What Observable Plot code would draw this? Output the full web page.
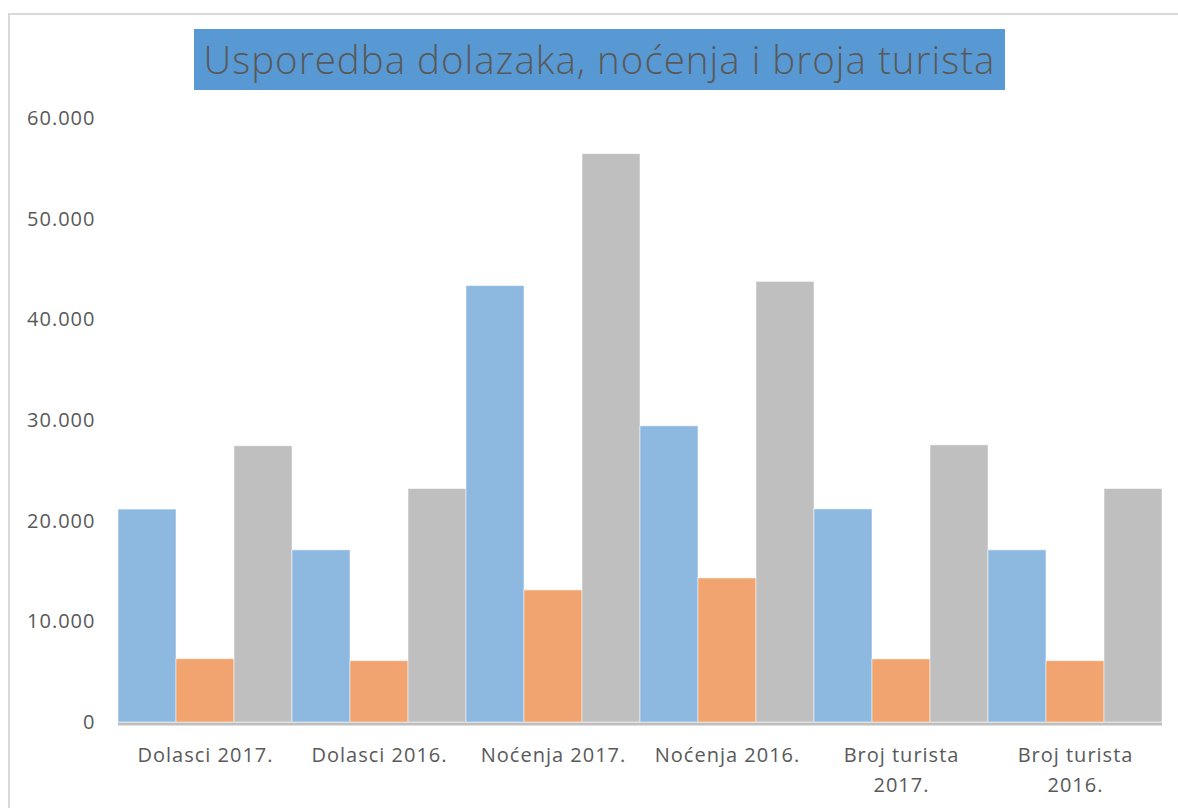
<!DOCTYPE html>
<html>
<head>
<meta charset="utf-8">
<script src="https://cdn.jsdelivr.net/npm/d3@7"></script>
<script src="https://cdn.jsdelivr.net/npm/@observablehq/plot@0.6"></script>
<style>
  html, body { margin: 0; padding: 0; background: #fff; overflow: hidden; width: 1178px; height: 808px; }
  #frame { position: absolute; left: 8px; top: 13px; width: 1400px; height: 1000px; border: 2px solid #d9d9d9; box-sizing: border-box; }
  #head { position: relative; height: 100px; }
  #title { position: absolute; left: 194px; top: 29px; width: 811px; height: 61px; background: #5899D4; color: #595959;
           font-family: "Open Sans", sans-serif; font-weight: 300; font-size: 38.5px; line-height: 61px; text-align: center; white-space: nowrap; letter-spacing: 1px; }
  #chart { position: relative; }
</style>
</head>
<body>
<div id="frame"></div>
<div id="head"><div id="title">Usporedba dolazaka, noćenja i broja turista</div></div>
<div id="chart"></div>
<script>
const categories = ["Dolasci 2017.", "Dolasci 2016.", "Noćenja 2017.", "Noćenja 2016.", "Broj turista 2017.", "Broj turista 2016."];
const seriesNames = ["Strani", "Domaći", "Ukupno"];
const seriesColors = ["#8DB9E1", "#F1A46F", "#BFBFBF"];
const blueValues = [21150, 17100, 43350, 29420, 21170, 17100];
const orangeValues = [6290, 6090, 13120, 14310, 6270, 6090];
const grayValues = [27440, 23190, 56460, 43770, 27530, 23190];
const yTicks = [0, 10000, 20000, 30000, 40000, 50000, 60000];

const seriesValues = [blueValues, orangeValues, grayValues];
const data = [];
categories.forEach((c, i) => {
  seriesNames.forEach((s, j) => data.push({category: c, series: s, value: seriesValues[j][i]}));
});

const fmt = d3.formatLocale({thousands: ".", decimal: ",", grouping: [3], currency: ["", ""]}).format(",");

const chart = Plot.plot({
  width: 1178,
  height: 708,
  marginTop: 18,
  marginBottom: 86,
  marginLeft: 118,
  marginRight: 16,
  style: {fontFamily: "'Open Sans', sans-serif", fontSize: "20px", color: "#595959", background: "transparent", letterSpacing: "1px"},
  fx: {domain: categories, padding: 0, label: null, axis: null},
  x: {domain: seriesNames, padding: 0, axis: null},
  y: {domain: [0, 60000], label: null},
  color: {domain: seriesNames, range: seriesColors},
  marks: [
    Plot.barY(data, {fx: "category", x: "series", y: "value", fill: "series", stroke: "white", strokeWidth: 1, strokeOpacity: 0.5}),
    Plot.ruleY([0], {stroke: "#BFBFBF", strokeWidth: 3, dy: 1.5}),
    Plot.axisY({ticks: yTicks, tickFormat: fmt, tickSize: 0, tickPadding: 23, label: null, fill: "#595959"}),
    Plot.axisFx({anchor: "bottom", tickSize: 0, tickPadding: 18, label: null, lineHeight: 1.5, fill: "#595959",
                 tickFormat: d => d.replace("turista ", "turista\n")})
  ]
});
document.getElementById("chart").appendChild(chart);
</script>
</body>
</html>
